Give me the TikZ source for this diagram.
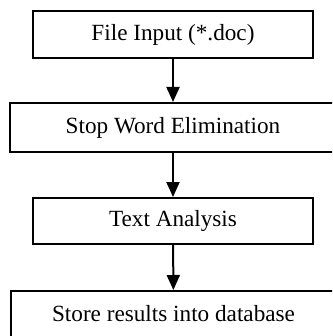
\documentclass[tikz,border=0pt]{standalone}
\usepackage{fontspec}
\setmainfont{Liberation Serif}
\usetikzlibrary{arrows.meta, positioning}

\tikzset{
  procbox/.style={draw, line width=1pt, rectangle, inner sep=0pt, font=\fontsize{11.6}{13}\selectfont},
  flow/.style={-{Triangle[width=6.5pt, length=7.5pt]}, line width=1pt}
}

\begin{document}
\begin{tikzpicture}[x=0.5pt, y=-0.5pt]
      \useasboundingbox (0, 0) rectangle (332, 336);
      \clip (0, 0) rectangle (332, 336);

      \node[procbox, minimum width=140pt, minimum height=23.5pt] (input) at (173, 34.5) {File Input (*.doc)};
      \node[procbox, minimum width=163pt, minimum height=24.5pt] (stopword) at (173, 127.5) {Stop Word Elimination};
      \node[procbox, minimum width=140pt, minimum height=23pt] (analysis) at (173, 221) {Text Analysis};
      \node[procbox, minimum width=163pt, minimum height=23pt] (store) at (173.5, 314) {Store results into database};

      \draw[flow] (input) -- (stopword);
      \draw[flow] (stopword) -- (analysis);
      \draw[flow] (analysis) -- (store);
    \end{tikzpicture}
\end{document}
